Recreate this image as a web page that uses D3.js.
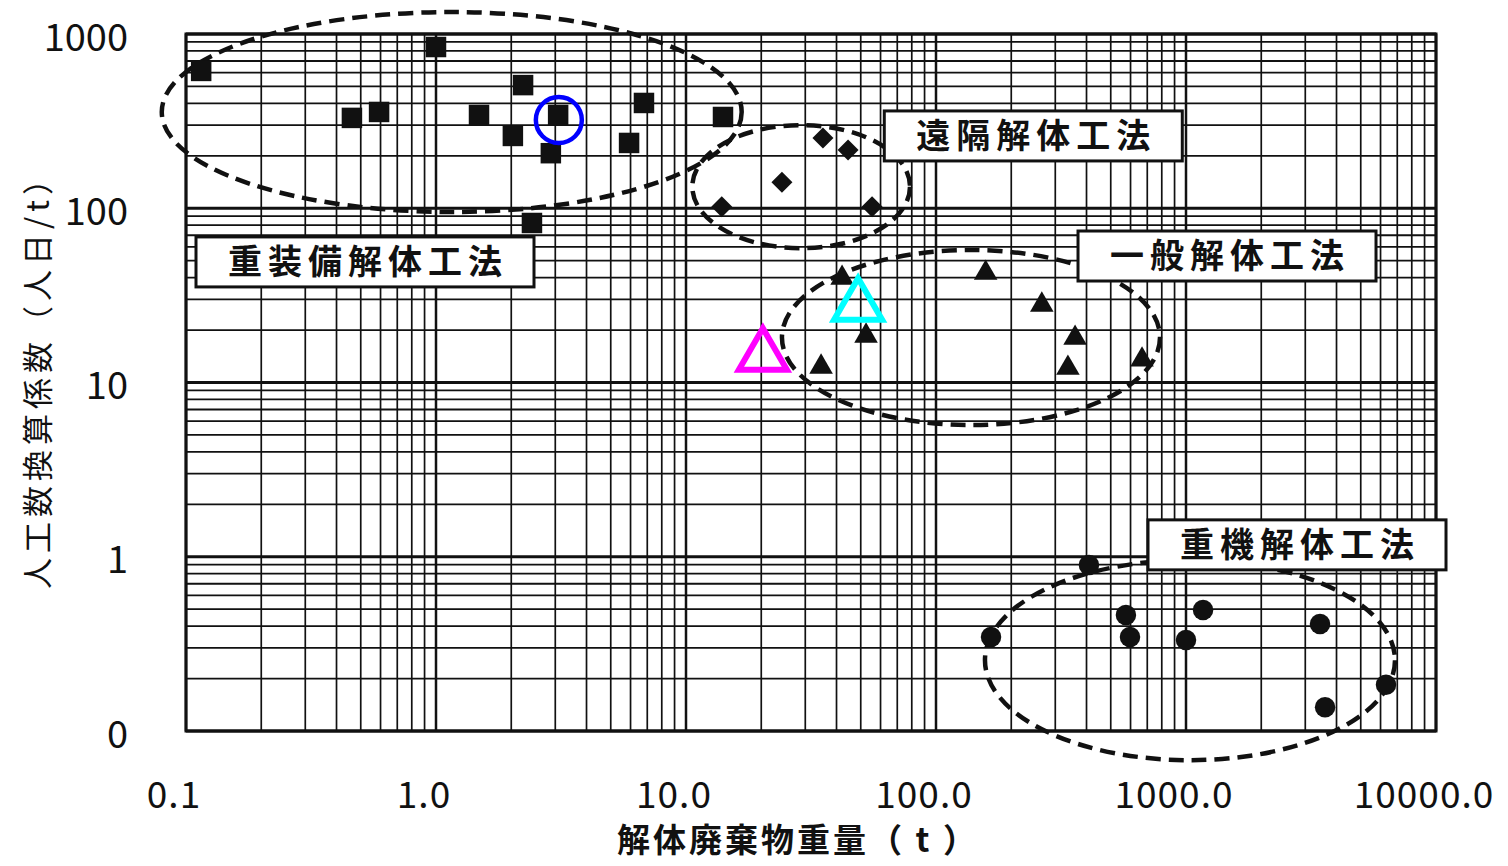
<!DOCTYPE html>
<html>
<head>
<meta charset="utf-8">
<script src="https://cdn.jsdelivr.net/npm/d3@7"></script>
<style>
body { margin: 0; background: #fff; }
</style>
</head>
<body>
<script>
var xTicks = [0.1, 1, 10, 100, 1000, 10000];
var xTickLabels = ["0.1", "1.0", "10.0", "100.0", "1000.0", "10000.0"];
var yTicks = [0.1, 1, 10, 100, 1000];
var yTickLabels = ["0", "1", "10", "100", "1000"];

// 重装備解体工法 (squares)
var heavyEquipX = [0.115, 0.461, 0.592, 1.0, 1.486, 2.23, 3.08, 2.03, 2.88, 5.92, 6.79, 14.06, 2.42];
var heavyEquipY = [614, 330, 357, 842, 343, 509, 343, 260, 207, 237, 402, 334, 82.3];
// 遠隔解体工法 (diamonds)
var remoteX = [35.3, 44.5, 24.2, 13.9, 55.5];
var remoteY = [253, 216, 141, 102, 102];
// 一般解体工法 (triangles)
var generalX = [42.1, 52.5, 34.7, 158, 265, 360, 337, 667];
var generalY = [39.8, 18.5, 12.3, 42.5, 27.9, 18.0, 12.1, 13.5];
// 重機解体工法 (circles)
var heavyMachX = [409, 166, 575, 597, 1170, 1000, 3436, 3600, 6310];
var heavyMachY = [0.897, 0.346, 0.463, 0.346, 0.494, 0.333, 0.411, 0.137, 0.184];

var groupNames = ["重装備解体工法", "遠隔解体工法", "一般解体工法", "重機解体工法"];
// dashed ellipse extents [xmin, xmax, ymin, ymax]
var groupBounds = [[0.080, 16.7, 95.2, 1337], [10.6, 78.7, 59, 300], [24.2, 787, 5.7, 57.6], [157, 6855, 0.068, 0.957]];
// label box centres [x, y]
var labelAt = [[0.52, 49.2], [245, 260], [1459, 53.2], [2780, 1.17]];

// highlighted points
var markCircle = [3.10, 321];
var markCyan = [48.8, 27.5];
var markMagenta = [20.3, 14.2];

var W = 1508, H = 866;
var plotL = 186, plotR = 1436, plotT = 34, plotB = 731;

var svg = d3.select("body").append("svg")
	.attr("width", W)
	.attr("height", H)
	.style("font-family", "'Noto Sans CJK JP', 'Noto Sans', sans-serif");

var x = d3.scaleLog().domain([0.1, 10000]).range([plotL, plotR]);
var y = d3.scaleLog().domain([0.1, 1000]).range([plotB, plotT]);

// log grid lines 1..9 per decade
function gridValues(lo, hi) {
	var v = [];
	for (var k = Math.round(Math.log10(lo)); k < Math.round(Math.log10(hi)); k++) {
		for (var m = 1; m <= 9; m++) v.push({ v: m * Math.pow(10, k), major: m == 1 });
	}
	v.push({ v: hi, major: true });
	return v;
}

var grid = svg.append("g").attr("stroke", "#111");

grid.selectAll("line.gx")
	.data(gridValues(0.1, 10000))
	.enter().append("line")
	.attr("x1", function (d) { return x(d.v); })
	.attr("x2", function (d) { return x(d.v); })
	.attr("y1", plotT)
	.attr("y2", plotB)
	.attr("stroke-width", function (d) { return d.major ? 2.5 : 1.7; });

grid.selectAll("line.gy")
	.data(gridValues(0.1, 1000))
	.enter().append("line")
	.attr("y1", function (d) { return y(d.v); })
	.attr("y2", function (d) { return y(d.v); })
	.attr("x1", plotL)
	.attr("x2", plotR)
	.attr("stroke-width", function (d) { return d.major ? 3 : 1.8; });

svg.append("rect") //plot border
	.attr("x", plotL)
	.attr("y", plotT)
	.attr("width", plotR - plotL)
	.attr("height", plotB - plotT)
	.attr("fill", "none")
	.attr("stroke", "#111")
	.attr("stroke-width", 3);

// tick labels
svg.selectAll("text.xt")
	.data(xTicks)
	.enter().append("text")
	.attr("x", function (d) { return x(d) - 12; })
	.attr("y", 808)
	.attr("text-anchor", "middle")
	.attr("font-size", 37)
	.attr("letter-spacing", 1)
	.attr("fill", "#111")
	.text(function (d, i) { return xTickLabels[i]; });

svg.selectAll("text.yt")
	.data(yTicks)
	.enter().append("text")
	.attr("x", 128)
	.attr("y", function (d) { return y(d) + 3; })
	.attr("dy", "0.36em")
	.attr("text-anchor", "end")
	.attr("font-size", 38)
	.attr("fill", "#111")
	.text(function (d, i) { return yTickLabels[i]; });

// axis titles
svg.append("text")
	.attr("x", 798)
	.attr("y", 852)
	.attr("text-anchor", "middle")
	.attr("font-size", 33)
	.attr("font-weight", "bold")
	.attr("letter-spacing", 3)
	.attr("fill", "#111")
	.text("解体廃棄物重量（ t ）");

svg.append("text")
	.attr("transform", "translate(38,374) rotate(-90)")
	.attr("dy", "0.35em")
	.attr("text-anchor", "middle")
	.attr("font-size", 31)
	.attr("letter-spacing", 5)
	.attr("fill", "#111")
	.text("人工数換算係数（人日/t）");

// dashed group ellipses
svg.selectAll("ellipse.grp")
	.data(groupBounds)
	.enter().append("ellipse")
	.attr("cx", function (d) { return (x(d[0]) + x(d[1])) / 2; })
	.attr("cy", function (d) { return (y(d[2]) + y(d[3])) / 2; })
	.attr("rx", function (d) { return (x(d[1]) - x(d[0])) / 2; })
	.attr("ry", function (d) { return (y(d[2]) - y(d[3])) / 2; })
	.attr("fill", "none")
	.attr("stroke", "#111")
	.attr("stroke-width", 4.5)
	.attr("stroke-dasharray", "15 8");

// group label boxes
var labels = svg.selectAll("g.lab")
	.data(groupNames)
	.enter().append("g")
	.attr("transform", function (d, i) { return "translate(" + x(labelAt[i][0]) + "," + y(labelAt[i][1]) + ")"; });

labels.append("rect")
	.attr("x", function (d) { return -(d.length * 40 + 58) / 2; })
	.attr("y", -25)
	.attr("width", function (d) { return d.length * 40 + 58; })
	.attr("height", 50)
	.attr("fill", "#fff")
	.attr("stroke", "#111")
	.attr("stroke-width", 3);

labels.append("text")
	.attr("x", 3)
	.attr("dy", "0.36em")
	.attr("text-anchor", "middle")
	.attr("font-size", 34)
	.attr("font-weight", "bold")
	.attr("letter-spacing", 6)
	.attr("fill", "#111")
	.text(function (d) { return d; });

// data markers
function pts(xs, ys) {
	return xs.map(function (v, i) { return [v, ys[i]]; });
}

function drawMarks(data, type, size, rot) {
	svg.append("g").selectAll("path")
		.data(data)
		.enter().append("path")
		.attr("d", d3.symbol().type(type).size(size))
		.attr("transform", function (d) { return "translate(" + x(d[0]) + "," + y(d[1]) + ") rotate(" + rot + ")"; })
		.attr("fill", "#111");
}

drawMarks(pts(heavyEquipX, heavyEquipY), d3.symbolSquare, 420, 0);
drawMarks(pts(remoteX, remoteY), d3.symbolSquare, 220, 45);
drawMarks(pts(generalX, generalY), d3.symbolTriangle, 240, 0);
drawMarks(pts(heavyMachX, heavyMachY), d3.symbolCircle, 330, 0);

// coloured highlights
svg.append("circle")
	.attr("cx", x(markCircle[0]))
	.attr("cy", y(markCircle[1]))
	.attr("r", 23)
	.attr("fill", "none")
	.attr("stroke", "#0000ff")
	.attr("stroke-width", 4.5);

svg.selectAll("path.hl")
	.data([{ p: markCyan, c: "#00ffff" }, { p: markMagenta, c: "#ff00ff" }])
	.enter().append("path")
	.attr("d", d3.symbol().type(d3.symbolTriangle).size(1000))
	.attr("transform", function (d) { return "translate(" + x(d.p[0]) + "," + y(d.p[1]) + ")"; })
	.attr("fill", "none")
	.attr("stroke", function (d) { return d.c; })
	.attr("stroke-width", 6);
</script>
</body>
</html>
